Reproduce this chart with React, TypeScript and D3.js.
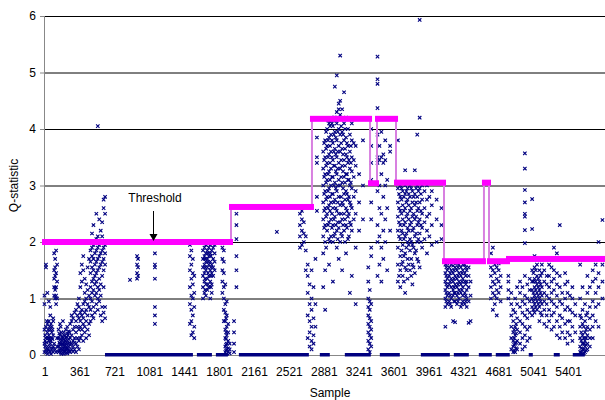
import React, { useEffect, useRef } from 'react';
import * as d3 from 'd3';

// y axis ticks and x axis category labels (every 360 samples)
const yTicks = [0, 1, 2, 3, 4, 5, 6];
const xTickLabels = [1, 361, 721, 1081, 1441, 1801, 2161, 2521, 2881, 3241, 3601, 3961, 4321, 4681, 5041, 5401];
const sampleCount = 5900;

// threshold: [from sample, to sample, Q value]
const thresholdSteps: [number, number, number][] = [
  [0, 1929, 2.0], [1929, 2764, 2.62], [2764, 3363, 4.18], [3363, 3435, 3.04],
  [3435, 3631, 4.18], [3631, 4126, 3.05], [4126, 4538, 1.66], [4538, 4590, 3.05],
  [4590, 4786, 1.66], [4786, 5900, 1.7],
];

// runs of samples where Q = 0
const zeroRuns: [number, number][] = [
  [629, 1536], [1577, 1732], [1773, 1897], [2010, 2732], [2845, 2948], [3103, 3371],
  [3464, 3670], [3887, 4186], [4227, 4382], [4485, 4619], [4660, 4804], [5000, 5042],
  [5258, 5320], [5454, 5578],
];

// Q-statistic points: [sample, values at that sample]
const block0: [number, number[]][] = [
  [5, [0.05, 0.2, 0.45, 0.9, 1.05]], [12, [0.15, 0.25, 0.35]], [20, [0.1, 0.3, 0.5, 1.55, 1.6]],
  [28, [0.05, 0.22, 0.6]], [35, [0.02, 0.15, 0.4, 0.55, 1.1]], [42, [0.1, 0.3, 0.45]],
  [50, [0.08, 0.25, 0.35, 0.6, 0.95]], [58, [0.15, 0.3, 0.5]], [65, [0.05, 0.2, 0.45, 0.7, 0.85]],
  [72, [0.02, 0.25, 0.55]], [80, [0.1, 0.3, 0.5, 0.4]], [88, [0.12, 0.28, 0.45]],
  [95, [0.05, 0.15, 0.35, 0.6, 0.65]], [105, [0.2, 1.05, 1.2, 1.35, 1.5, 1.8]], [115, [0.1, 1.0, 1.15, 1.4, 1.55, 1.7]],
  [125, [0.05, 0.9, 1.05, 1.2, 1.45, 1.85]], [135, [0.15, 0.3, 1.0, 1.3, 1.6]],
  [150, [0.05, 0.15, 0.3, 0.45]], [158, [0.08, 0.22, 0.38]], [165, [0.1, 0.2, 0.35, 0.55]],
  [172, [0.04, 0.18, 0.28, 0.5]], [180, [0.02, 0.12, 0.25, 0.4]], [188, [0.1, 0.2, 0.33]],
  [195, [0.08, 0.18, 0.3, 0.6]], [203, [0.02, 0.12, 0.27, 0.4]], [210, [0.05, 0.15, 0.22, 0.35]],
  [218, [0.07, 0.17, 0.25]], [225, [0.1, 0.2, 0.3, 0.45]], [233, [0.04, 0.14, 0.32]],
  [240, [0.03, 0.12, 0.25, 0.38, 0.5]], [248, [0.1, 0.2, 0.35]], [255, [0.08, 0.15, 0.28, 0.42]],
  [263, [0.06, 0.22, 0.4]], [270, [0.05, 0.18, 0.3, 0.55]],
  [285, [0.1, 0.2, 0.35, 0.6, 0.7]], [300, [0.06, 0.15, 0.25, 0.45, 0.65]], [315, [0.1, 0.22, 0.3, 0.5, 0.75]],
  [330, [0.05, 0.2, 0.4, 0.6, 0.8]], [345, [0.15, 0.3, 0.5, 0.7, 0.9]], [360, [0.1, 0.25, 0.45, 0.65, 0.85, 1.0]],
  [375, [0.3, 0.5, 0.6, 0.75, 1.2, 1.45]], [390, [0.35, 0.45, 0.7, 0.8, 1.3, 1.6]], [405, [0.25, 0.55, 0.65, 0.9, 1.5, 1.75]],
  [420, [0.4, 0.5, 0.75, 0.95, 1.1, 1.35]], [435, [0.3, 0.6, 0.8, 1.0, 1.25]], [450, [0.45, 0.7, 0.9, 1.15, 1.55]],
  [465, [0.35, 0.55, 0.85, 1.05, 1.7]],
  [480, [0.6, 0.8, 1.0, 1.2, 1.45, 1.65, 1.85, 2.0]], [495, [0.7, 0.95, 1.1, 1.3, 1.55, 1.75, 1.9, 2.15]],
  [510, [0.65, 0.85, 1.15, 1.35, 1.5, 1.7, 1.95, 2.3]], [525, [0.75, 1.05, 1.25, 1.4, 1.6, 1.8, 2.0]],
  [540, [0.9, 1.1, 1.3, 1.45, 1.65, 1.85, 2.05, 2.5]], [555, [0.8, 1.0, 1.2, 1.5, 1.7, 1.9, 2.1, 4.05]],
  [570, [0.95, 1.15, 1.35, 1.55, 1.75, 1.95, 2.4]], [585, [0.7, 1.05, 1.25, 1.6, 1.8, 2.0, 2.2]],
  [600, [0.6, 0.85, 1.4, 1.65, 1.85, 2.1, 2.35]], [615, [0.75, 1.2, 1.5, 1.7, 1.9, 2.0, 2.6, 2.75]],
  [630, [0.65, 0.85, 1.6, 1.8, 1.95, 2.5, 2.8]],
  [887, [1.33]], [960, [1.35, 1.45, 1.6, 1.75]], [970, [1.4, 1.55, 1.7]], [1144, [0.55, 0.7, 0.85, 1.35, 1.55, 1.6, 1.8]],
];

const block1800: [number, number[]][] = [
  [1505, [0.55, 0.9, 1.2, 1.5, 1.75, 1.95]], [1520, [0.35, 0.6, 0.8, 1.05, 1.35, 1.6, 1.85]],
  [1535, [0.4, 0.7, 1.0, 1.25, 1.45, 1.7]], [1550, [0.3, 0.5, 0.85, 1.1, 1.4]],
  [1640, [1.0, 1.2, 1.4, 1.55, 1.7, 1.85]], [1655, [1.1, 1.3, 1.45, 1.6, 1.75, 1.9]],
  [1662, [1.15, 1.35, 1.55, 1.7]], [1670, [1.05, 1.25, 1.5, 1.65, 1.8, 1.95]],
  [1685, [1.15, 1.35, 1.55, 1.7, 1.85]], [1692, [1.25, 1.45, 1.65, 1.8]],
  [1700, [1.2, 1.4, 1.6, 1.75, 1.9]], [1715, [1.0, 1.3, 1.5, 1.65, 1.8, 1.95]], [1722, [1.2, 1.4, 1.55, 1.75]],
  [1730, [1.1, 1.25, 1.45, 1.6, 1.85]], [1745, [1.4, 1.55, 1.7, 1.9, 2.0]], [1760, [1.5, 1.65, 1.8, 1.95]],
  [1840, [1.1, 1.3, 1.5, 1.7, 1.9]], [1855, [0.6, 0.8, 1.0, 1.2, 1.45, 1.65, 1.85, 2.0]],
  [1870, [0.05, 0.15, 0.3, 0.45, 0.6, 0.75, 0.9, 1.25]], [1878, [0.08, 0.18, 0.28, 0.4, 0.65]],
  [1885, [0.02, 0.1, 0.2, 0.35, 0.5, 0.7, 0.95]],
  [1900, [0.05, 0.12, 0.25, 0.4, 0.55]], [1915, [0.03, 0.1, 0.2]],
  [1960, [0.05, 0.2, 0.4, 0.6]], [1985, [1.2, 1.5, 1.75, 2.05, 2.3, 2.5]], [2402, [2.18]],
];

const block2900: [number, number[]][] = [
  [2640, [1.9, 2.1, 2.3, 2.5]], [2660, [1.95, 2.2, 2.4, 2.55]], [2680, [2.0, 2.15, 2.35]],
  [2700, [1.5, 1.85, 2.1]], [2720, [0.3, 0.7, 1.1, 1.4, 1.6]], [2740, [0.15, 0.4, 0.6, 0.9, 1.25]],
  [2760, [0.1, 0.25, 0.5, 0.8, 1.0, 1.5]], [2780, [0.2, 0.35, 0.65, 1.2]], [2800, [0.5, 0.9, 1.7]],
  [2815, [2.55, 2.8, 3.4, 3.5, 3.85]],
  [2880, [1.2, 1.8, 2.1, 2.4, 2.7, 3.0, 3.3, 3.6]], [2890, [2.25, 2.55, 2.85, 3.15, 3.45, 3.75]],
  [2900, [0.8, 1.5, 2.0, 2.3, 2.6, 2.9, 3.2, 3.5, 3.8]], [2910, [1.9, 2.45, 2.75, 3.05, 3.35, 3.65, 3.95]],
  [2920, [2.2, 2.5, 2.8, 3.1, 3.4, 3.7, 4.0]], [2930, [2.3, 2.6, 2.9, 3.2, 3.5, 3.8, 4.15]],
  [2940, [1.6, 2.05, 2.35, 2.65, 2.95, 3.25, 3.55, 3.85, 4.1]], [2950, [2.0, 2.55, 2.8, 3.1, 3.4, 3.7, 4.05]],
  [2960, [2.1, 2.4, 2.7, 3.0, 3.3, 3.6, 3.9, 4.15]], [2970, [2.25, 2.5, 2.85, 3.15, 3.5, 3.8, 4.1]],
  [2980, [1.3, 2.0, 2.3, 2.6, 2.85, 3.15, 3.45, 3.75, 4.05]], [2990, [2.1, 2.4, 2.7, 3.0, 3.35, 3.6, 3.9, 4.2]],
  [3000, [2.15, 2.45, 2.75, 3.05, 3.35, 3.65, 3.95, 4.2, 4.75]], [3010, [2.3, 2.6, 2.95, 3.25, 3.55, 3.85, 4.15]],
  [3020, [1.9, 2.2, 2.55, 2.9, 3.2, 3.5, 3.8, 4.1, 4.3, 4.95]], [3030, [2.05, 2.35, 2.7, 3.0, 3.3, 3.6, 3.95]],
  [3040, [1.7, 2.25, 2.5, 2.8, 3.1, 3.4, 3.7, 4.0, 4.45, 4.35]], [3055, [2.0, 2.35, 2.65, 3.0, 3.3, 3.6, 3.9, 4.25, 4.5, 5.3]],
  [3065, [2.15, 2.5, 2.8, 3.15, 3.45, 3.75, 4.05]],
  [3075, [1.5, 2.1, 2.4, 2.7, 3.05, 3.35, 3.65, 3.95, 4.35]], [3085, [2.3, 2.65, 2.95, 3.25, 3.55, 3.9]],
  [3095, [2.2, 2.5, 2.85, 3.15, 3.45, 3.8, 4.1, 4.65]], [3105, [2.0, 2.4, 2.75, 3.05, 3.35, 3.65, 4.0]],
  [3115, [1.8, 2.3, 2.6, 2.9, 3.2, 3.55, 3.85, 4.2]], [3125, [2.25, 2.55, 2.85, 3.2, 3.5, 3.75]],
  [3135, [2.05, 2.45, 2.75, 3.1, 3.4, 3.7, 4.0]], [3145, [2.1, 2.5, 2.8, 3.1, 3.45]],
  [3155, [1.1, 2.35, 2.7, 3.0, 3.3, 3.6, 3.9]], [3165, [2.3, 2.65, 3.05, 3.4, 3.7]],
  [3175, [1.4, 2.2, 2.6, 2.95, 3.25, 3.5, 3.8, 4.1]],
  [3195, [2.4, 2.8, 3.15, 3.45, 3.75]], [3215, [0.9, 1.9, 2.5, 2.9, 3.35, 3.7]], [3250, [2.2, 2.7, 3.2]],
  [3290, [2.4, 3.0, 3.8]],
];

const block3400: [number, number[]][] = [
  [3345, [0.1, 0.25, 0.4, 0.55, 0.7, 0.85, 1.0, 1.3, 1.55]], [3360, [0.05, 0.2, 0.35, 0.5, 0.65, 0.8, 0.95, 1.15]],
  [3375, [0.15, 0.3, 0.45, 0.6, 0.9, 1.75, 1.9, 2.4, 2.7, 3.1, 3.4, 3.7, 4.0]],
  [3440, [1.4, 2.0, 2.3, 2.9, 3.4, 3.5, 3.9, 4.37, 4.8, 4.88, 5.28]], [3460, [1.6, 2.1, 2.6, 3.0, 3.45, 3.7]],
  [3480, [1.3, 1.9, 2.5, 3.2, 3.5, 3.95]], [3500, [1.7, 2.2, 2.8, 3.4, 3.55]], [3520, [2.0, 2.4, 3.0, 3.45, 3.8]],
  [3540, [1.5, 2.6, 3.1]], [3570, [2.2, 3.6, 3.7]],
];

const block3900: [number, number[]][] = [
  [3650, [1.3, 1.6, 1.9, 2.2, 2.45, 2.7, 2.95, 3.8]], [3662, [1.4, 2.1, 2.35, 2.6, 2.85]],
  [3675, [1.2, 1.5, 1.75, 2.05, 2.3, 2.55, 2.8, 3.0]], [3688, [1.6, 1.85, 2.2, 2.5, 2.75, 2.95]],
  [3700, [1.4, 1.65, 1.95, 2.15, 2.4, 2.65, 2.9]], [3712, [1.3, 1.75, 2.05, 2.3, 2.55, 2.8]],
  [3725, [1.1, 1.55, 1.8, 2.1, 2.35, 2.6, 2.85, 3.0, 3.27]], [3738, [1.5, 1.9, 2.15, 2.45, 2.7, 2.9]],
  [3750, [1.35, 1.7, 2.0, 2.25, 2.5, 2.75, 2.95]], [3762, [1.6, 1.95, 2.2, 2.4, 2.65, 2.85]],
  [3775, [1.5, 1.85, 2.05, 2.3, 2.55, 2.8, 3.0]], [3788, [1.4, 1.7, 2.0, 2.35, 2.6, 2.95]],
  [3800, [1.25, 1.6, 1.95, 2.2, 2.45, 2.7, 2.9]], [3812, [1.55, 1.9, 2.25, 2.5, 2.8]],
  [3825, [1.45, 1.8, 2.1, 2.4, 2.65, 2.85, 3.27]], [3838, [1.85, 2.15, 2.45, 2.7, 2.95]],
  [3850, [1.7, 2.0, 2.3, 2.55, 2.8, 3.0, 3.9]], [3862, [1.65, 2.05, 2.35, 2.6, 2.9]],
  [3875, [1.55, 2.15, 2.4, 2.7, 2.95, 4.2, 5.93]], [3888, [2.0, 2.3, 2.55, 2.85]],
  [3900, [1.9, 2.25, 2.5, 2.75, 3.0]], [3925, [2.05, 2.35, 2.6, 2.9]], [3950, [1.8, 2.2, 2.45, 2.75, 3.0]],
  [3975, [2.1, 2.5, 2.8]], [4000, [1.95, 2.3, 2.65, 2.9]], [4050, [2.0, 2.4, 2.75]], [4100, [2.05, 2.3, 2.6]],
];

const block4300: [number, number[]][] = [
  [4140, [0.5, 0.85, 1.0, 1.15, 1.3, 1.45, 1.6]], [4150, [0.95, 1.1, 1.25, 1.4, 1.55]],
  [4160, [0.9, 1.05, 1.2, 1.35, 1.5, 1.62]], [4180, [0.95, 1.1, 1.25, 1.4, 1.55]],
  [4190, [0.9, 1.05, 1.3, 1.45]], [4200, [0.85, 1.0, 1.2, 1.35, 1.5, 1.6]],
  [4220, [0.6, 1.05, 1.15, 1.3, 1.45, 1.58]], [4230, [0.95, 1.1, 1.2, 1.35, 1.5]],
  [4240, [0.58, 0.95, 1.1, 1.25, 1.4, 1.55]], [4260, [0.9, 1.05, 1.2, 1.35, 1.5, 1.62]],
  [4270, [0.95, 1.1, 1.25, 1.4, 1.55]], [4280, [1.0, 1.15, 1.3, 1.45, 1.6]],
  [4300, [0.85, 1.1, 1.25, 1.4, 1.55]], [4310, [0.9, 1.15, 1.3, 1.45]], [4320, [0.95, 1.05, 1.2, 1.35, 1.5, 1.6]],
  [4340, [0.9, 1.1, 1.3, 1.45, 1.6]], [4350, [0.95, 1.05, 1.25, 1.4, 1.55]], [4360, [0.85, 1.0, 1.15, 1.3, 1.5]],
  [4380, [0.57, 0.95, 1.2, 1.4, 1.55]], [4400, [0.6, 1.05, 1.3]],
  [4610, [1.0, 1.2, 1.4, 1.55, 1.8]], [4630, [0.8, 1.1, 1.3, 1.5, 1.65, 1.9]],
  [4650, [0.9, 1.05, 1.25, 1.45, 1.6]], [4670, [0.7, 1.0, 1.15, 1.35, 1.55]],
  [4690, [1.1, 1.3, 1.5, 1.62]], [4710, [0.95, 1.2, 1.4]],
];

const block5000: [number, number[]][] = [
  [4790, [1.0, 1.15, 1.3, 1.4]], [4820, [0.1, 0.3, 0.5, 0.7, 0.9, 1.1]], [4840, [0.05, 0.15, 0.25, 0.4, 0.6, 0.8]],
  [4850, [0.08, 0.18, 0.3, 0.45]], [4860, [0.05, 0.2, 0.35, 0.5, 0.75, 1.0]], [4870, [0.12, 0.22, 0.38, 0.55]],
  [4880, [0.1, 0.25, 0.45, 0.65, 0.9, 1.2]],
  [4910, [0.2, 0.4, 0.6, 0.85, 1.1, 1.3]], [4935, [0.1, 0.3, 0.55, 0.75, 0.95, 1.2]],
  [4960, [0.15, 0.35, 0.5, 0.7, 0.9, 1.05, 1.4, 1.98, 2.21, 2.45, 2.5, 2.7, 2.92, 3.3, 3.57]],
  [4985, [0.25, 0.45, 0.65, 0.8, 1.0, 1.25]], [5010, [0.3, 0.5, 0.75, 0.95, 1.15, 1.35]],
  [5035, [0.7, 0.85, 1.0, 1.15, 1.3, 1.5, 1.7, 2.23, 2.76]], [5048, [0.8, 0.95, 1.1, 1.3, 1.45]],
  [5060, [0.75, 0.9, 1.05, 1.2, 1.35, 1.55, 1.75]], [5072, [0.85, 1.0, 1.15, 1.3, 1.5]],
  [5085, [0.8, 0.95, 1.1, 1.25, 1.4, 1.6]], [5098, [0.9, 1.05, 1.2, 1.35]],
  [5110, [0.6, 0.85, 1.0, 1.15, 1.3, 1.5, 1.7]], [5122, [0.75, 0.95, 1.1, 1.25, 1.4]],
  [5135, [0.7, 0.9, 1.05, 1.2, 1.45, 1.6]], [5160, [0.55, 0.8, 0.95, 1.1, 1.3, 1.5]],
  [5185, [0.5, 0.7, 0.9, 1.05, 1.25, 1.4]],
];

const block5400: [number, number[]][] = [
  [5210, [0.6, 0.8, 1.0, 1.2, 1.4, 1.6]], [5235, [0.45, 0.7, 0.95, 1.1, 1.3, 1.55]],
  [5260, [0.5, 0.75, 0.9, 1.15, 1.35, 1.5, 1.9]], [5290, [0.35, 0.6, 0.85, 1.05, 1.25, 1.45, 1.8]],
  [5320, [0.3, 0.5, 0.7, 0.95, 1.2, 1.4, 2.3]], [5345, [0.4, 0.65, 0.9, 1.1]],
  [5375, [0.3, 0.55, 0.8, 1.0, 1.25, 1.45]], [5400, [0.2, 0.4, 0.6, 0.85, 1.1, 1.3]],
  [5425, [0.35, 0.6, 0.8, 1.05]], [5450, [0.25, 0.5, 0.75, 1.0, 1.2]], [5480, [0.4, 0.7, 0.9]],
  [5530, [0.05, 0.15, 0.3, 0.5, 0.7, 1.0, 1.6]], [5542, [0.05, 0.12, 0.25, 0.4, 0.65]],
  [5555, [0.02, 0.1, 0.2, 0.35, 0.55, 0.8, 1.2]], [5568, [0.03, 0.1, 0.2, 0.3, 0.5]],
  [5580, [0.05, 0.15, 0.25, 0.4, 0.6, 0.9]], [5592, [0.08, 0.18, 0.3, 0.45, 0.7]],
  [5605, [0.1, 0.2, 0.35, 0.5, 0.75, 1.1, 1.4]],
  [5630, [0.15, 0.3, 0.45, 0.65, 0.85, 1.2]], [5660, [0.3, 0.5, 0.7, 0.95, 1.3, 1.5]],
  [5690, [0.6, 0.85, 1.1, 1.35, 1.6]], [5720, [0.5, 0.9, 1.2, 1.45, 1.7, 2.0]], [5760, [1.0, 1.3, 1.6, 2.39]],
];

const blocks = [block0, block1800, block2900, block3400, block3900, block4300, block5000, block5400];

const W = 605, H = 400;
const font = '"Liberation Sans", Arial, sans-serif';

export default function App() {
  const svgRef = useRef<SVGSVGElement>(null);

  useEffect(() => {
    document.body.style.margin = '0';
    const svg = d3.select(svgRef.current);
    svg.selectAll('*').remove();

    const x = d3.scaleLinear().domain([0, sampleCount]).range([44, 616]);
    const y = d3.scaleLinear().domain([0, 6]).range([355, 16]);

    const g = svg.append('g');

    // grid lines
    g.selectAll('line.grid')
      .data(yTicks.filter(d => d > 0))
      .enter().append('line')
      .attr('x1', 44).attr('x2', W)
      .attr('y1', d => y(d) + 0.5).attr('y2', d => y(d) + 0.5)
      .attr('stroke', '#000').attr('stroke-width', 1);

    // axes
    g.append('line').attr('x1', 44).attr('x2', W).attr('y1', y(0) + 0.5).attr('y2', y(0) + 0.5)
      .attr('stroke', '#888');
    g.append('line').attr('x1', 44.5).attr('x2', 44.5).attr('y1', y(6)).attr('y2', y(0))
      .attr('stroke', '#888');
    g.selectAll('line.ytick').data(yTicks).enter().append('line')
      .attr('x1', 40).attr('x2', 44).attr('y1', d => y(d) + 0.5).attr('y2', d => y(d) + 0.5)
      .attr('stroke', '#888');

    g.selectAll('text.ylab').data(yTicks).enter().append('text')
      .attr('x', 36).attr('y', d => y(d) + 4)
      .attr('text-anchor', 'end').attr('font-family', font).attr('font-size', 12)
      .text(d => d);

    g.selectAll('text.xlab').data(xTickLabels).enter().append('text')
      .attr('x', d => x(d) + 1).attr('y', 376)
      .attr('text-anchor', 'middle').attr('font-family', font).attr('font-size', 12)
      .text(d => d);

    g.append('text').attr('x', 330).attr('y', 397).attr('text-anchor', 'middle')
      .attr('font-family', font).attr('font-size', 12).text('Sample');
    g.append('text').attr('transform', `translate(18,${y(3)}) rotate(-90)`).attr('text-anchor', 'middle')
      .attr('font-family', font).attr('font-size', 12).text('Q-statistic');

    // zero runs
    g.selectAll('rect.zero').data(zeroRuns).enter().append('rect')
      .attr('x', d => x(d[0])).attr('width', d => x(d[1]) - x(d[0]))
      .attr('y', y(0) - 2).attr('height', 3.5).attr('fill', '#000080');

    // scatter points
    const pts = blocks.flatMap(b => b.flatMap(([s, vals]) => vals.map(v => ({ s, v }))));
    g.selectAll('path.pt').data(pts).enter().append('path')
      .attr('transform', d => `translate(${x(d.s)},${y(d.v)})`)
      .attr('d', 'M-1.7,-1.7L1.7,1.7M-1.7,1.7L1.7,-1.7')
      .attr('stroke', '#000080').attr('stroke-width', 1.1).attr('fill', 'none');

    // threshold connectors
    const links = thresholdSteps.slice(1).map((d, i) => ({ s: d[0], a: thresholdSteps[i][2], b: d[2] }));
    g.selectAll('line.link').data(links).enter().append('line')
      .attr('x1', d => x(d.s)).attr('x2', d => x(d.s))
      .attr('y1', d => y(d.a)).attr('y2', d => y(d.b))
      .attr('stroke', '#d880e0').attr('stroke-width', 2);

    g.selectAll('rect.thr').data(thresholdSteps).enter().append('rect')
      .attr('x', d => x(d[0]) - 2).attr('width', d => x(d[1]) - x(d[0]) + 4)
      .attr('y', d => y(d[2]) - 3).attr('height', 6).attr('fill', '#ff00ff');

    // annotation
    g.append('text').attr('x', 155).attr('y', 202).attr('text-anchor', 'middle')
      .attr('font-family', font).attr('font-size', 12).text('Threshold');
    g.append('line').attr('x1', 153.5).attr('x2', 153.5).attr('y1', 211).attr('y2', 235)
      .attr('stroke', '#000').attr('stroke-width', 1);
    g.append('path').attr('d', 'M149.5,234L157.5,234L153.5,241Z').attr('fill', '#000');
  }, []);

  return <svg ref={svgRef} width={W} height={H} style={{ display: 'block', background: '#fff' }} />;
}
